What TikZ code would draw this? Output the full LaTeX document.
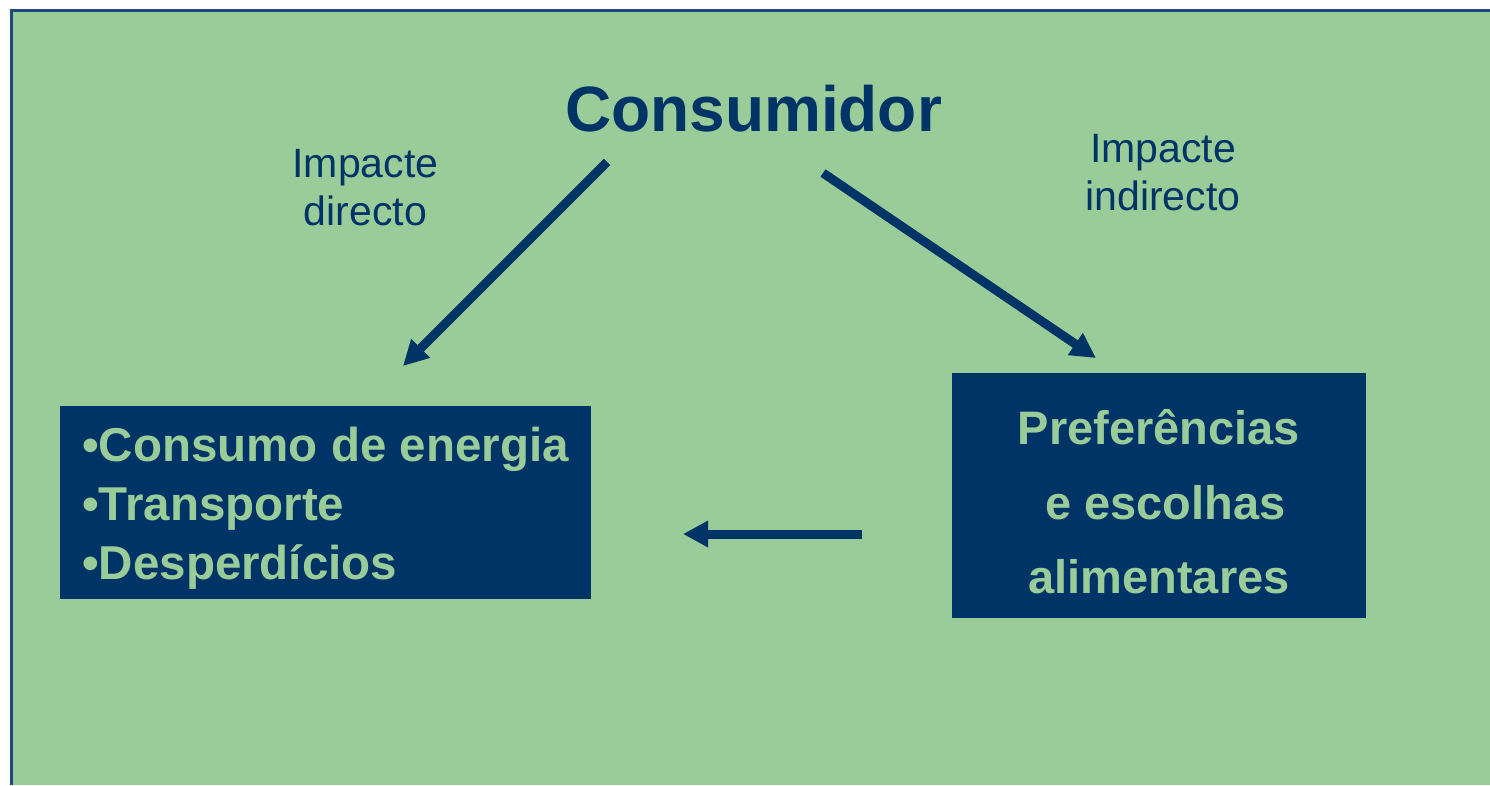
\documentclass[tikz,border=0pt]{standalone}
\usepackage{fontspec}
\setmainfont{Liberation Sans}
\usetikzlibrary{arrows.meta,positioning}
\definecolor{leafgreen}{HTML}{99CC99}
\definecolor{navy}{HTML}{003366}
\definecolor{framenavy}{HTML}{1F497D}
\tikzset{
  push/.style={-{Triangle[length=25pt,width=25pt]}, line width=9pt, navy},
  label text/.style={align=center, text=navy, font=\fontsize{41}{48}\selectfont},
  impact box/.style={rectangle, fill=navy, text=leafgreen, inner xsep=0pt, inner ysep=0pt}
}
\begin{document}
\begin{tikzpicture}[x=1pt,y=-1pt]
    \useasboundingbox (0,0) rectangle (1490,785);
    \fill[leafgreen] (10,9) rectangle (1490,785);
    \draw[framenavy, line width=3pt] (11.5,785) -- (11.5,10.5) -- (1490,10.5);
    \node(cons) [anchor=base, text=navy, font=\fontsize{64}{72}\selectfont\bfseries] at (753.5,131) {Consumidor};
    \node(direct) [label text] at (365.5,188) {Impacte\\directo};
    \node(indirect) [label text] at (1163,173) {Impacte\\indirecto};
    \node(energy) [impact box, minimum width=531pt, minimum height=193pt, align=left, font=\fontsize{47.5}{59}\selectfont\bfseries] at (325.5,502.5) {\rule{0pt}{45pt}•Consumo de energia\\•Transporte\\•Desperdícios};
    \node(choices) [impact box, minimum width=414pt, minimum height=245pt, align=center, font=\fontsize{47}{74.5}\selectfont\bfseries] at (1159,495.5) {\rule{0pt}{48pt}Preferências\\\hspace*{.28em}e escolhas\\alimentares};
    \coordinate (dirstart) at (607,162);
    \coordinate (dirend) at (403,366);
    \coordinate (indstart) at (823,173);
    \coordinate (indend) at (1096,358);
    \coordinate (choicestart) at (862,534);
    \coordinate (choiceend) at (683,534);
    \draw[push] (dirstart) -- (dirend);
    \draw[push] (indstart) -- (indend);
    \draw[push] (choicestart) -- (choiceend);
  \end{tikzpicture}
\end{document}
